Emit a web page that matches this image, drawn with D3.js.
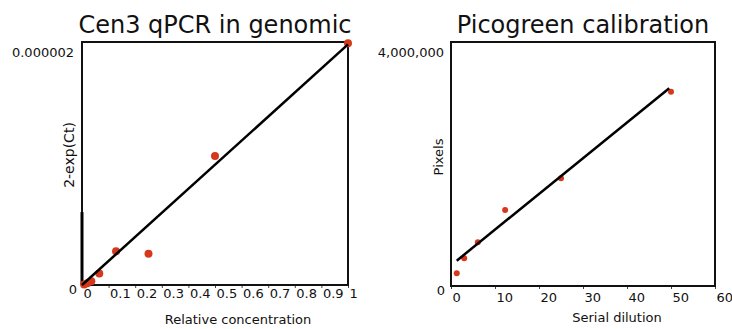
<!DOCTYPE html>
<html>
<head>
<meta charset="utf-8">
<script src="https://d3js.org/d3.v7.min.js"></script>
<style>
    body { margin: 0; background: #fff; }
    text { font-family: 'DejaVu Sans', Verdana, sans-serif; fill: #111; }
</style>
</head>
<body>
<div id="chart"></div>
<script>
// cen3 qPCR data (relative concentration vs 2-exp(Ct))
var qpcrX = [0.008, 0.02, 0.035, 0.065, 0.128, 0.25, 0.5, 1]
var qpcrY = [0.005e-6, 0.015e-6, 0.03e-6, 0.094e-6, 0.277e-6, 0.258e-6, 1.061e-6, 1.99e-6]
var qpcrFitX = [0, 1]
var qpcrFitY = [0, 1.98e-6]
var qpcrXTicks = [0, 0.1, 0.2, 0.3, 0.4, 0.5, 0.6, 0.7, 0.8, 0.9, 1]
var qpcrYTicks = [0, 0.000002]
var qpcrYLabels = ['0', '0.000002']

// picogreen calibration data (serial dilution vs pixels)
var picoX = [1.3, 3, 6.1, 12.3, 25, 50]
var picoY = [208000, 454000, 716000, 1246000, 1766000, 3185000]
var picoFitX = [1.3, 49.6]
var picoFitY = [415000, 3241000]
var picoXTicks = [0, 10, 20, 30, 40, 50, 60]
var picoYTicks = [0, 4000000]
var picoYLabels = ['0', '4,000,000']

var svg = d3.select('#chart')
    .append('svg')
    .attr('width', 732)
    .attr('height', 329)

function panel(opt) {
    var x = d3.scaleLinear()
        .domain(opt.xDomain)
        .range([opt.left, opt.right])
    var y = d3.scaleLinear()
        .domain(opt.yDomain)
        .range([opt.bottom, opt.top])

    var g = svg.append('g')

    // title
    g.append('text')
        .attr('x', (opt.left + opt.right) / 2)
        .attr('y', 33)
        .attr('text-anchor', 'middle')
        .style('font-size', '24px')
        .text(opt.title)

    // x axis, labels start at the tick
    var gx = g.append('g')
        .attr('transform', 'translate(0,' + opt.bottom + ')')
        .call(d3.axisBottom(x)
            .tickValues(opt.xTicks)
            .tickSize(3)
            .tickFormat(function (d) { return String(d) }))
    gx.select('.domain').remove()
    gx.selectAll('line').attr('stroke', '#444')
    gx.selectAll('text')
        .attr('text-anchor', 'start')
        .attr('x', 1)
        .attr('y', opt.xLabelY)
        .attr('dy', 0)
        .style('font-size', '13px')
        .style('font-family', "'DejaVu Sans', Verdana, sans-serif")
        .style('fill', '#111')

    // y axis, only two labels
    var gy = g.append('g')
        .attr('transform', 'translate(' + opt.left + ',0)')
        .call(d3.axisLeft(y)
            .tickValues(opt.yTicks)
            .tickSize(0)
            .tickFormat(function (d, i) { return opt.yLabels[i] }))
    gy.select('.domain').remove()
    gy.selectAll('text')
        .attr('x', function (d, i) { return opt.yLabelDx[i] })
        .attr('dy', 0)
        .attr('y', function (d, i) { return i === 0 ? 8 : 14 })
        .style('font-size', '13px')
        .style('font-family', "'DejaVu Sans', Verdana, sans-serif")
        .style('fill', '#111')

    // axis titles
    g.append('text')
        .attr('x', opt.xTitleX)
        .attr('y', opt.xTitleY)
        .attr('text-anchor', 'middle')
        .style('font-size', '13px')
        .text(opt.xTitle)
    g.append('text')
        .attr('transform', 'translate(' + opt.yTitleX + ',' + opt.yTitleY + ') rotate(-90)')
        .attr('text-anchor', 'middle')
        .style('font-size', opt.yTitleSize)
        .text(opt.yTitle)

    // plot frame
    g.append('rect')
        .attr('x', opt.left)
        .attr('y', opt.top)
        .attr('width', opt.right - opt.left)
        .attr('height', opt.bottom - opt.top)
        .style('fill', 'none')
        .style('stroke', '#111')
        .style('stroke-width', 2)

    // darker stub on the left edge near the origin
    if (opt.stub) {
        g.append('line')
            .attr('x1', opt.left).attr('x2', opt.left)
            .attr('y1', y(opt.stub)).attr('y2', opt.bottom)
            .style('stroke', '#000')
            .style('stroke-width', 3)
    }

    // dots
    g.selectAll('circle')
        .data(opt.xs)
        .enter()
        .append('circle')
        .attr('cx', function (d) { return x(d) })
        .attr('cy', function (d, i) { return y(opt.ys[i]) })
        .attr('r', opt.r)
        .style('fill', '#d5391b')

    // fitted line
    var line = d3.line()
        .x(function (d) { return x(d[0]) })
        .y(function (d) { return y(d[1]) })
    g.append('path')
        .datum(d3.zip(opt.fitX, opt.fitY))
        .attr('d', line)
        .style('fill', 'none')
        .style('stroke', '#000')
        .style('stroke-width', 2.5)
}

panel({
    title: 'Cen3 qPCR in genomic',
    left: 82, right: 348, top: 42, bottom: 285,
    xDomain: [0, 1], yDomain: [0, 2e-6],
    xTicks: qpcrXTicks, yTicks: qpcrYTicks, yLabels: qpcrYLabels,
    yLabelDx: [-5, -8],
    xLabelY: 13,
    xTitle: 'Relative concentration', xTitleX: 238, xTitleY: 324,
    yTitle: '2-exp(Ct)', yTitleX: 74, yTitleY: 155, yTitleSize: '14px',
    xs: qpcrX, ys: qpcrY, fitX: qpcrFitX, fitY: qpcrFitY, r: 4,
    stub: 0.6e-6
})

panel({
    title: 'Picogreen calibration',
    left: 451, right: 715, top: 42, bottom: 286,
    xDomain: [0, 60], yDomain: [0, 4000000],
    xTicks: picoXTicks, yTicks: picoYTicks, yLabels: picoYLabels,
    yLabelDx: [-6, -7],
    xLabelY: 16,
    xTitle: 'Serial dilution', xTitleX: 617, xTitleY: 322,
    yTitle: 'Pixels', yTitleX: 443, yTitleY: 157, yTitleSize: '13px',
    xs: picoX, ys: picoY, fitX: picoFitX, fitY: picoFitY, r: 3
})
</script>
</body>
</html>
